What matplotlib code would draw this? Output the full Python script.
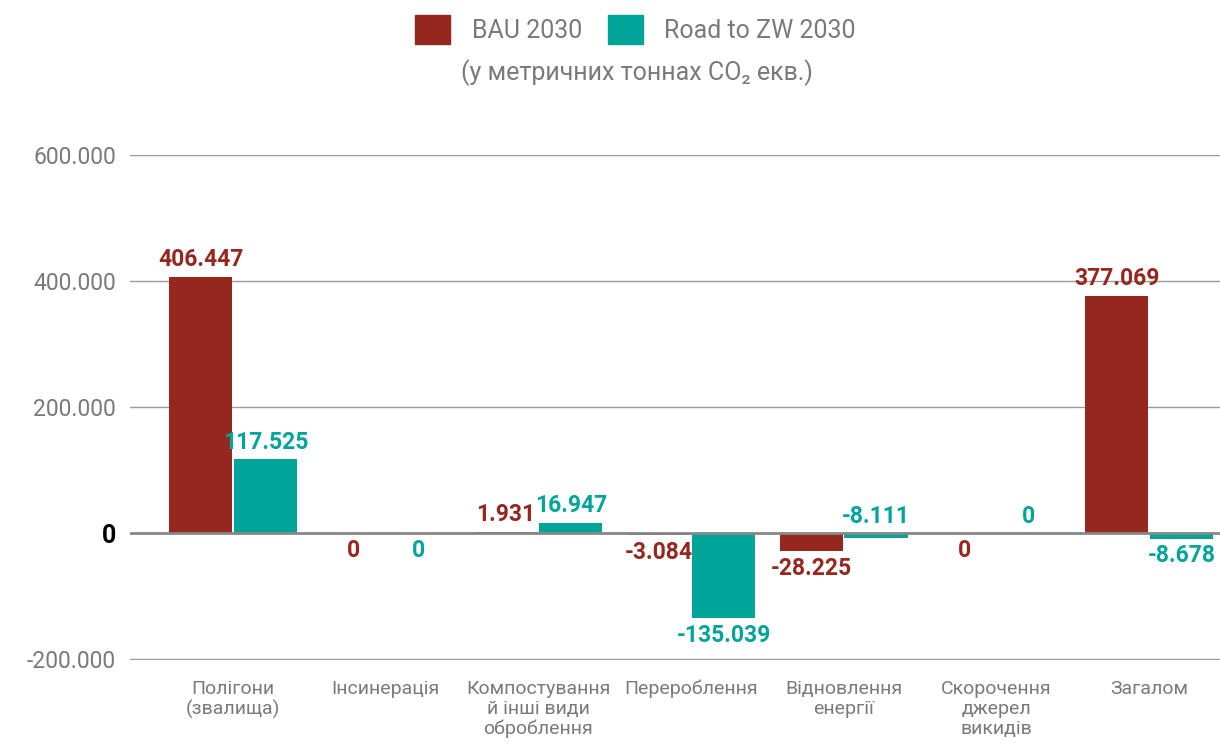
import matplotlib.pyplot as plt
from matplotlib.patches import Patch
import numpy as np

plt.rcParams['font.family'] = ['Roboto', 'DejaVu Sans']

categories = ["Полігони\n(звалища)", "Інсинерація", "Компостування\nй інші види\nоброблення",
              "Перероблення", "Відновлення\nенергії", "Скорочення\nджерел\nвикидів", "Загалом"]
bau_2030 = [406447, 0, 1931, -3084, -28225, 0, 377069]
zw_2030 = [117525, 0, 16947, -135039, -8111, 0, -8678]
bau_labels = ["406.447", "0", "1.931", "-3.084", "-28.225", "0", "377.069"]
zw_labels = ["117.525", "0", "16.947", "-135.039", "-8.111", "0", "-8.678"]
# where each value label sits (the source places a few of them oddly)
bau_side = ["up", "down", "up", "down", "down", "down", "up"]
zw_side = ["up", "down", "up", "down", "up", "up", "down"]

red = "#96271f"
teal = "#00a499"
grey = "#7a7a7a"

fig = plt.figure(figsize=(12.2, 7.46), dpi=100)
ax = fig.add_axes([0.1066, 0.1150, 0.8934, 0.6772])

x = np.arange(len(categories))
w = 0.415
off = 0.212
ax.bar(x - off, bau_2030, w, color=red, zorder=3)
ax.bar(x + off, zw_2030, w, color=teal, zorder=3)

def put_labels(xs, vals, labels, sides, color):
    for xi, v, t, s in zip(xs, vals, labels, sides):
        if s == "up":
            y0 = max(v, 0)
            ax.annotate(t, (xi, y0), xytext=(0, 4), textcoords="offset points",
                        ha="center", va="bottom", color=color, fontsize=16.5,
                        fontweight="bold", zorder=4)
        else:
            y0 = min(v, 0)
            ax.annotate(t, (xi, y0), xytext=(0, -4), textcoords="offset points",
                        ha="center", va="top", color=color, fontsize=16.5,
                        fontweight="bold", zorder=4)

put_labels(x - off, bau_2030, bau_labels, bau_side, red)
put_labels(x + off, zw_2030, zw_labels, zw_side, teal)

ax.set_xlim(-0.675, 6.465)
ax.set_ylim(-201500, 600000)
ax.set_yticks([-200000, 0, 200000, 400000, 600000])
ax.set_yticklabels(["-200.000", "0", "200.000", "400.000", "600.000"])
for lbl in ax.get_yticklabels():
    if lbl.get_text() == "0":
        lbl.set_color("black")
        lbl.set_fontweight("bold")
        lbl.set_fontsize(18)
    else:
        lbl.set_color(grey)
        lbl.set_fontsize(16.5)
ax.tick_params(axis="y", length=0, pad=10)
ax.set_xticks(x)
ax.set_xticklabels(categories, color=grey, fontsize=14, linespacing=1.15)
ax.tick_params(axis="x", length=0, pad=14)

ax.yaxis.grid(True, color="#9a9a9a", linewidth=1, zorder=0)
ax.axhline(0, color="#888888", linewidth=2, zorder=5)
for sp in ax.spines.values():
    sp.set_visible(False)

handles = [Patch(color=red), Patch(color=teal)]
fig.legend(handles, ["BAU 2030", "Road to ZW 2030"], loc="center",
           bbox_to_anchor=(0.521, 0.96), ncol=2, frameon=False,
           fontsize=18, labelcolor=grey, handlelength=1.4, handleheight=1.4,
           handletextpad=0.85, columnspacing=1.05)
fig.text(0.522, 0.903, "(у метричних тоннах CO₂ екв.)", ha="center", va="center",
         fontsize=18, color=grey)

plt.savefig("out.png", dpi=100)
